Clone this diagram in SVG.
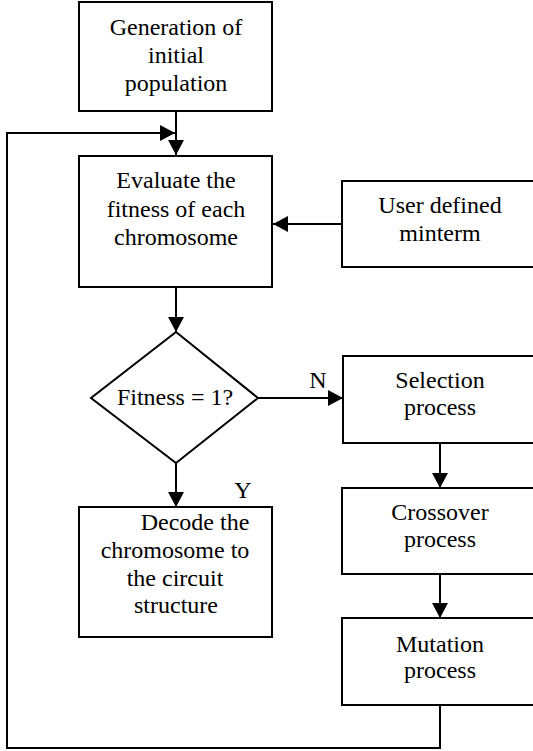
<svg xmlns="http://www.w3.org/2000/svg" width="533" height="751" viewBox="0 0 533 751">
<style>
.box{fill:#fff;stroke:#000;stroke-width:2}
.ln{fill:none;stroke:#000;stroke-width:2}
.t{font-family:"Liberation Serif","Times New Roman","DejaVu Serif",serif;font-size:24px;fill:#000;text-anchor:middle}
</style>
<defs>
<marker id="ah" markerWidth="16" markerHeight="16" refX="15" refY="8" orient="auto" markerUnits="userSpaceOnUse">
<path d="M0,0 L15,8 L0,16 Z" fill="#000"/>
</marker>
</defs>
<rect width="533" height="751" fill="#fff"/>
<g id="connectors">
<path class="ln" d="M176,111 V155" marker-end="url(#ah)"/>
<path class="ln" d="M440,705 V748 H7 V133 H175" marker-end="url(#ah)"/>
<path class="ln" d="M342,224 H273" marker-end="url(#ah)"/>
<path class="ln" d="M176,287 V332" marker-end="url(#ah)"/>
<path class="ln" d="M258,398 H343" marker-end="url(#ah)"/>
<path class="ln" d="M176,463 V507" marker-end="url(#ah)"/>
<path class="ln" d="M440,443 V488" marker-end="url(#ah)"/>
<path class="ln" d="M440,574 V618" marker-end="url(#ah)"/>
<text class="t" x="318" y="388">N</text>
<text class="t" x="243" y="498">Y</text>
</g>
<g id="init">
<rect class="box" x="79" y="2" width="193" height="109"/>
<text class="t" x="176" y="35">Generation of</text>
<text class="t" x="176" y="63">initial</text>
<text class="t" x="176" y="91">population</text>
</g>
<g id="evaluate">
<rect class="box" x="79" y="156" width="193" height="131"/>
<text class="t" x="176" y="188">Evaluate the</text>
<text class="t" x="176" y="217">fitness of each</text>
<text class="t" x="176" y="245">chromosome</text>
</g>
<g id="minterm">
<rect class="box" x="342" y="181" width="200" height="86"/>
<text class="t" x="440" y="213">User defined</text>
<text class="t" x="440" y="241">minterm</text>
</g>
<g id="fitness">
<polygon class="box" points="176,332 258,398 176,463 91,398"/>
<text class="t" x="175" y="405">Fitness = 1?</text>
</g>
<g id="selection">
<rect class="box" x="343" y="356" width="200" height="87"/>
<text class="t" x="440" y="388">Selection</text>
<text class="t" x="440" y="415">process</text>
</g>
<g id="decode">
<rect class="box" x="79" y="507" width="193" height="130"/>
<text class="t" x="195" y="530">Decode the</text>
<text class="t" x="175" y="558">chromosome to</text>
<text class="t" x="175" y="586">the circuit</text>
<text class="t" x="176" y="613">structure</text>
</g>
<g id="crossover">
<rect class="box" x="342" y="488" width="200" height="86"/>
<text class="t" x="440" y="520">Crossover</text>
<text class="t" x="440" y="547">process</text>
</g>
<g id="mutation">
<rect class="box" x="342" y="618" width="200" height="87"/>
<text class="t" x="440" y="652">Mutation</text>
<text class="t" x="440" y="678">process</text>
</g>
</svg>
